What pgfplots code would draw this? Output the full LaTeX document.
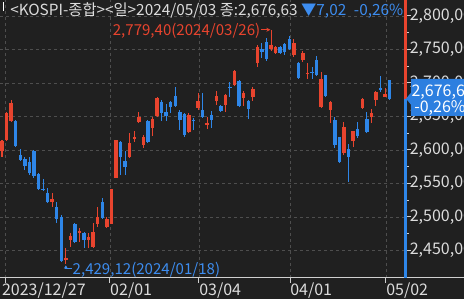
\documentclass[border=0pt]{standalone}
\usepackage{pgfplots}
\pgfplotsset{compat=1.18}
\usepackage{pgfplotstable}
\usepackage{fontspec}
\setmainfont{Noto Sans CJK KR}
\usetikzlibrary{arrows.meta,calc}
\definecolor{bgc}{HTML}{202020}
\definecolor{gridc}{HTML}{4E4E4E}
\definecolor{labc}{HTML}{DCDCDC}
\definecolor{axc}{HTML}{D0D0D0}
\definecolor{upred}{HTML}{E8442E}
\definecolor{dnblue}{HTML}{2E86E8}
\definecolor{txtblue}{HTML}{3D8DF0}
\definecolor{boxblue}{HTML}{2C7FE0}

\pgfplotstableread{
i o h l c
0 2598.5 2614.9 2589.6 2613.5
1 2614.9 2656.7 2613.5 2655.2
2 2643.3 2674.6 2641.8 2670.2
11 2522.4 2535.8 2514.9 2526.9
14 2435.9 2453.8 2429.12 2438.8
15 2465.7 2476.1 2455.3 2471.7
17 2476.1 2483.6 2462.7 2479.1
19 2465.7 2476.1 2453.8 2470.2
20 2455.3 2491.1 2453.8 2477.6
21 2489.6 2514.9 2485.1 2500.0
23 2485.1 2500.0 2483.6 2497.0
24 2489.6 2542.5 2489.0 2541.8
25 2558.2 2615.5 2557.5 2614.9
28 2589.6 2625.4 2588.1 2610.5
29 2617.9 2628.4 2612.0 2619.4
30 2641.8 2656.7 2640.3 2649.3
31 2607.5 2622.4 2603.0 2619.4
33 2632.9 2649.3 2620.9 2646.3
34 2650.8 2679.1 2649.3 2677.6
41 2626.9 2655.2 2625.4 2652.3
43 2662.7 2685.1 2659.7 2673.2
45 2638.8 2649.3 2631.4 2640.3
47 2673.2 2688.1 2667.2 2680.6
49 2667.2 2683.6 2656.7 2682.1
51 2697.0 2719.4 2695.5 2717.9
53 2677.6 2688.1 2665.7 2685.1
55 2679.1 2694.0 2673.2 2691.1
56 2729.9 2756.7 2723.9 2753.7
59 2750.8 2779.4 2747.8 2757.1
60 2744.8 2755.2 2743.3 2753.7
64 2741.8 2765.7 2738.8 2759.7
66 2734.4 2747.8 2731.4 2744.8
67 2713.5 2729.9 2706.0 2715.0
70 2664.2 2716.4 2662.7 2706.0
72 2659.7 2672.5 2640.3 2671.7
75 2595.5 2641.8 2592.6 2634.4
77 2613.5 2629.0 2604.5 2628.4
79 2662.7 2677.6 2661.2 2676.1
81 2649.3 2661.2 2640.3 2655.2
82 2674.6 2688.1 2665.7 2686.6
84 2679.1 2692.6 2678.5 2683.65
}\uptable

\pgfplotstableread{
i o h l c
3 2643.3 2644.8 2604.0 2606.0
4 2592.6 2601.5 2584.0 2585.1
5 2586.6 2589.6 2570.2 2576.1
6 2582.1 2589.6 2562.7 2565.7
7 2598.5 2600.0 2558.2 2561.2
8 2564.2 2565.7 2540.3 2541.8
9 2541.8 2556.7 2539.0 2540.3
10 2535.8 2543.3 2520.9 2522.4
12 2514.9 2522.4 2491.1 2497.0
13 2500.0 2503.0 2432.9 2434.4
16 2489.6 2491.1 2461.2 2462.7
18 2476.1 2477.6 2453.8 2465.7
22 2522.4 2528.4 2497.0 2498.5
26 2612.0 2613.0 2562.7 2589.6
27 2583.6 2598.5 2562.7 2574.6
32 2643.3 2644.8 2610.5 2612.0
35 2671.7 2674.6 2643.3 2655.2
36 2656.7 2668.7 2643.3 2650.8
37 2671.7 2673.2 2655.2 2664.2
38 2680.6 2694.0 2664.2 2665.7
39 2656.7 2659.7 2629.9 2644.8
40 2653.8 2654.5 2619.4 2622.4
42 2644.8 2647.8 2629.9 2643.3
44 2659.7 2685.1 2647.8 2649.3
46 2652.3 2658.2 2632.9 2644.8
48 2665.7 2667.2 2656.7 2658.2
50 2694.0 2701.5 2679.1 2692.6
52 2703.0 2704.5 2664.2 2665.7
54 2673.2 2674.6 2646.3 2661.2
57 2750.8 2759.7 2737.3 2746.3
58 2761.2 2767.2 2732.9 2735.8
61 2753.7 2755.2 2743.3 2744.8
62 2758.2 2759.7 2741.8 2746.3
63 2765.7 2770.2 2749.3 2750.8
65 2729.9 2731.4 2706.0 2707.5
68 2716.4 2723.9 2706.0 2715.0
69 2734.4 2740.3 2710.5 2712.0
71 2712.0 2712.5 2679.1 2680.6
73 2644.8 2649.3 2603.0 2607.5
74 2619.4 2620.0 2580.6 2582.1
76 2601.5 2609.0 2552.3 2589.6
78 2631.4 2641.8 2617.9 2620.9
80 2646.3 2656.7 2625.4 2626.9
83 2692.6 2710.5 2686.6 2689.6
85 2704.5 2705.0 2674.6 2676.63
}\downtable

\newcommand{\tickfont}{\fontsize{12}{14}\selectfont}
\newcommand{\annfont}{\fontsize{11.3}{13}\selectfont}

\begin{document}
\begin{tikzpicture}
\useasboundingbox (0,0) rectangle (348pt,224.25pt);
\fill[bgc] (0,0) rectangle (348pt,224.25pt);
\clip (0,0) rectangle (348pt,224.25pt);
\begin{axis}[
  at={(0pt,15.75pt)}, anchor=south west,
  scale only axis, width=304.5pt, height=208.5pt,
  xmin=-0.4386, xmax=88.596, ymin=2408.96, ymax=2823.88,
  clip=false,
  axis line style={draw=none},
  xtick={0.66,23.68,43.2,63.16,84.21},
  xticklabels={{\hspace*{-2.4pt}2023/12/27},02/01,03/04,04/01,05/02},
  xtick pos=bottom, ytick pos=right, yticklabel pos=right,
  ytick={2450,2500,2550,2600,2650,2700,2750,2800},
  yticklabels={{2,450,00},{2,500,00},{2,550,00},{2,600,00},{2,650,00},{2,700,00},{2,750,00},{2,800,00}},
  minor ytick={2475,2525,2575,2625,2675,2725,2775},
  tick align=outside,
  major tick length=3.5pt, minor tick length=2pt,
  tick style={draw=axc, line width=0.75pt},
  grid=major,
  major grid style={draw=gridc, line width=0.6pt, dash pattern=on 2.25pt off 2.25pt},
  ticklabel style={font=\tickfont, text=labc, inner sep=0pt},
  xticklabel style={anchor=north west},
  yticklabel style={anchor=west, xshift=-0.8pt},
]
% wicks
\addplot[forget plot, draw=none, mark=none,
  error bars/.cd, y dir=both, y explicit, error mark=none,
  error bar style={draw=upred, line width=0.75pt, solid}]
  table[x=i, y expr={(\thisrow{h}+\thisrow{l})/2}, y error expr={(\thisrow{h}-\thisrow{l})/2}] {\uptable};
\addplot[forget plot, draw=none, mark=none,
  error bars/.cd, y dir=both, y explicit, error mark=none,
  error bar style={draw=dnblue, line width=0.75pt, solid}]
  table[x=i, y expr={(\thisrow{h}+\thisrow{l})/2}, y error expr={(\thisrow{h}-\thisrow{l})/2}] {\downtable};
% bodies
\addplot[forget plot, draw=none, mark=none,
  error bars/.cd, y dir=both, y explicit, error mark=none,
  error bar style={draw=upred, line width=2.6pt, solid}]
  table[x=i, y expr={(\thisrow{o}+\thisrow{c})/2}, y error expr={max(abs(\thisrow{c}-\thisrow{o})/2,0.8)}] {\uptable};
\addplot[forget plot, draw=none, mark=none,
  error bars/.cd, y dir=both, y explicit, error mark=none,
  error bar style={draw=dnblue, line width=2.6pt, solid}]
  table[x=i, y expr={(\thisrow{o}+\thisrow{c})/2}, y error expr={max(abs(\thisrow{c}-\thisrow{o})/2,0.8)}] {\downtable};
% annotations
\draw[upred, line width=0.75pt, -{Stealth[length=3pt,width=3pt]}] (axis cs:56.75,2779.4) -- (axis cs:58.85,2779.4);
\node[anchor=east, text=upred, font=\annfont, inner sep=0pt] at (axis cs:56.7,2777.5) {2,779,40(2024/03/26)};
\draw[txtblue, line width=0.75pt, -{Stealth[length=2.5pt,width=3pt]}] (axis cs:15.3,2422.4) -- (axis cs:14,2422.4) -- (axis cs:14,2427.8);
\node[anchor=west, text=txtblue, font=\annfont, inner sep=0pt] at (axis cs:15.45,2420.5) {2,429,12(2024/01/18)};
\coordinate (pr) at (axis cs:88.596,2676.63);
\end{axis}
% bottom axis line
\draw[axc, line width=0.75pt] (0,15.75pt) -- (348pt,15.75pt);
% right price-split line
\draw[upred, line width=2.25pt] (pr) -- (pr |- {(0,224.25pt)});
\draw[dnblue, line width=2.25pt] (pr) -- (pr |- {(0,15.75pt)});
% current price box
\fill[boxblue] (pr) -- ++(3.75pt,4.5pt) -- (308.25pt,165pt) -- (350pt,165pt) -- (350pt,137.25pt) -- (308.25pt,137.25pt) -- ($(pr)+(3.75pt,-4.5pt)$) -- cycle;
\node[anchor=base west, text=white, font=\tickfont, inner sep=0pt] at (308.5pt,152pt) {2,676,63};
\node[anchor=base west, text=white, font=\tickfont, inner sep=0pt] at (310.5pt,140.2pt) {-0,26\%};
% title
\fill[white] (2pt,216pt) rectangle (3.2pt,222.5pt);
\node[anchor=base west, inner sep=0pt, font=\fontsize{11.5}{13}\selectfont] at (7.5pt,212.25pt)
  {\textcolor{labc}{<KOSPI-종합><일>2024/05/03 종:2,676,63} \textcolor{txtblue}{▼7,02\enspace -0,26\%}};
\end{tikzpicture}
\end{document}
